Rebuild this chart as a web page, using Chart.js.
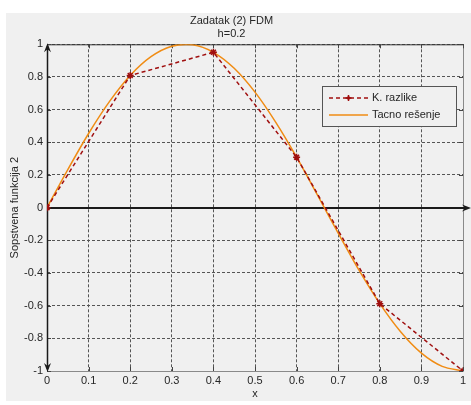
<!DOCTYPE html>
<html>
<head>
<meta charset="utf-8">
<title>Zadatak (2) FDM</title>
<script src="https://cdn.jsdelivr.net/npm/chart.js@4.4.1/dist/chart.umd.min.js"></script>
<style>
  html, body { margin: 0; padding: 0; background: #fff; }
  #wrap { width: 471px; height: 405px; }
</style>
</head>
<body>
<div id="wrap"><canvas id="fdmChart" width="471" height="405"></canvas></div>
<script>
// mesh nodes, h = 0.2
var fdmX = [0, 0.2, 0.4, 0.6, 0.8, 1];
var fdmY = [0, 0.809, 0.951, 0.309, -0.588, -1];

// exact solution sampled at 0.05
var exactX = [0, 0.05, 0.1, 0.15, 0.2, 0.25, 0.3, 0.35, 0.4, 0.45, 0.5,
  0.55, 0.6, 0.65, 0.7, 0.75, 0.8, 0.85, 0.9, 0.95, 1];
var exactY = [0, 0.233, 0.454, 0.649, 0.809, 0.924, 0.988, 0.997, 0.951, 0.853, 0.707,
  0.522, 0.309, 0.078, -0.156, -0.383, -0.588, -0.760, -0.891, -0.972, -1];

var xTickVals = [0, 0.1, 0.2, 0.3, 0.4, 0.5, 0.6, 0.7, 0.8, 0.9, 1];
var xTickLabels = ['0', '0.1', '0.2', '0.3', '0.4', '0.5', '0.6', '0.7', '0.8', '0.9', '1'];
var yTickVals = [-1, -0.8, -0.6, -0.4, -0.2, 0, 0.2, 0.4, 0.6, 0.8, 1];
var yTickLabels = ['-1', '-0.8', '-0.6', '-0.4', '-0.2', '0', '0.2', '0.4', '0.6', '0.8', '1'];

var seriesNames = ['K. razlike', 'Tacno rešenje'];

function toPoints(xs, ys) {
  return xs.map(function (x, i) { return { x: x, y: ys[i] }; });
}

var FONT = '"Liberation Sans", Arial, sans-serif';
var TEXT = '#262626';

// gray figure background
var figureBg = {
  id: 'figureBg',
  beforeDraw: function (chart) {
    var c = chart.ctx;
    c.save();
    c.fillStyle = '#ffffff';
    c.fillRect(0, 0, chart.width, chart.height);
    c.fillStyle = '#f0f0f0';
    c.fillRect(6, 13, chart.width - 6, 388);
    c.restore();
  }
};

function arrowHead(c, x, y, dir) {
  c.beginPath();
  if (dir === 'up') { c.moveTo(x, y - 1); c.lineTo(x - 3.5, y + 8); c.lineTo(x, y + 5); c.lineTo(x + 3.5, y + 8); }
  if (dir === 'down') { c.moveTo(x, y + 1); c.lineTo(x - 3.5, y - 8); c.lineTo(x, y - 5); c.lineTo(x + 3.5, y - 8); }
  if (dir === 'right') { c.moveTo(x + 1, y); c.lineTo(x - 8, y - 3.5); c.lineTo(x - 5, y); c.lineTo(x - 8, y + 3.5); }
  c.closePath();
  c.fill();
}

// box, axes with arrows, legend
var axesOverlay = {
  id: 'axesOverlay',
  beforeDatasetsDraw: function (chart) {
    var c = chart.ctx, a = chart.chartArea;
    var xs = chart.scales.x, ys = chart.scales.y;
    c.save();
    // box
    c.strokeStyle = '#8a8a8a';
    c.lineWidth = 1;
    c.beginPath();
    c.moveTo(a.right + 0.5, a.top);
    c.lineTo(a.right + 0.5, a.bottom + 0.5);
    c.lineTo(a.left, a.bottom + 0.5);
    c.stroke();
    c.strokeStyle = '#333';
    c.beginPath();
    c.moveTo(a.left, a.top + 0.5);
    c.lineTo(a.right + 1, a.top + 0.5);
    c.stroke();
    // tick marks along the edges
    c.strokeStyle = '#444';
    xTickVals.forEach(function (v) {
      var px = Math.round(xs.getPixelForValue(v)) + 0.5;
      c.beginPath();
      c.moveTo(px, a.bottom); c.lineTo(px, a.bottom - 4);
      c.moveTo(px, a.top); c.lineTo(px, a.top + 4);
      c.stroke();
    });
    yTickVals.forEach(function (v) {
      var py = Math.round(ys.getPixelForValue(v)) + 0.5;
      c.beginPath();
      c.moveTo(a.left, py); c.lineTo(a.left + 4, py);
      c.moveTo(a.right, py); c.lineTo(a.right - 4, py);
      c.stroke();
    });
    // coordinate axes
    var x0 = Math.round(xs.getPixelForValue(0)) + 0.5;
    var y0 = Math.round(ys.getPixelForValue(0));
    c.strokeStyle = '#1a1a1a';
    c.fillStyle = '#1a1a1a';
    c.lineWidth = 2;
    c.beginPath();
    c.moveTo(a.left, y0); c.lineTo(a.right + 5, y0);
    c.stroke();
    c.lineWidth = 1.5;
    c.beginPath();
    c.moveTo(x0, a.top + 2); c.lineTo(x0, a.bottom - 2);
    c.stroke();
    arrowHead(c, x0, a.top, 'up');
    arrowHead(c, x0, a.bottom, 'down');
    arrowHead(c, a.right + 7, y0, 'right');
    c.restore();
  },
  afterDatasetsDraw: function (chart) {
    var c = chart.ctx;
    var ds = chart.data.datasets;
    var bx = 322.5, by = 86.5, bw = 134, bh = 40;
    c.save();
    c.fillStyle = '#f0f0f0';
    c.fillRect(bx, by, bw, bh);
    c.strokeStyle = '#555';
    c.lineWidth = 1;
    c.strokeRect(bx, by, bw, bh);
    c.font = '11px ' + FONT;
    c.textBaseline = 'middle';
    var rows = [98, 115];
    ds.forEach(function (d, i) {
      var ry = rows[i];
      c.strokeStyle = d.borderColor;
      c.lineWidth = d.borderWidth;
      c.setLineDash(d.borderDash || []);
      c.beginPath();
      c.moveTo(329, ry); c.lineTo(368, ry);
      c.stroke();
      c.setLineDash([]);
      if (d.pointRadius > 0) {
        c.fillStyle = d.borderColor;
        c.lineWidth = 1.5;
        c.beginPath();
        c.moveTo(348.5, ry - 3); c.lineTo(348.5, ry + 3);
        c.moveTo(345.5, ry); c.lineTo(351.5, ry);
        c.stroke();
        c.beginPath(); c.arc(348.5, ry, 1.8, 0, Math.PI * 2); c.fill();
      }
      c.fillStyle = TEXT;
      c.fillText(seriesNames[i], 372, ry);
    });
    c.restore();
  }
};

var ctx = document.getElementById('fdmChart');
var fdmChart = new Chart(ctx, {
  type: 'line',
  data: {
    datasets: [{
      label: seriesNames[0],
      data: toPoints(fdmX, fdmY),
      borderColor: '#a00f0f',
      backgroundColor: '#a00f0f',
      borderWidth: 1.5,
      borderDash: [4, 3],
      pointStyle: 'star',
      pointRadius: 3.5,
      pointBorderWidth: 1.5,
      tension: 0,
      order: 0
    }, {
      label: seriesNames[1],
      data: toPoints(exactX, exactY),
      borderColor: '#f08c14',
      borderWidth: 1.5,
      pointRadius: 0,
      tension: 0.3,
      order: 1
    }]
  },
  options: {
    responsive: false,
    animation: false,
    events: [],
    layout: { padding: { left: 0, right: 8, top: 0, bottom: 0 } },
    plugins: {
      legend: { display: false },
      tooltip: { enabled: false },
      title: {
        display: true,
        text: ['Zadatak (2) FDM', 'h=0.2'],
        color: TEXT,
        font: { family: FONT, size: 11, weight: 'normal', lineHeight: 1.15 },
        padding: { top: 15, bottom: 4 }
      }
    },
    scales: {
      x: {
        type: 'linear',
        min: 0,
        max: 1,
        afterBuildTicks: function (axis) {
          axis.ticks = xTickVals.map(function (v) { return { value: v }; });
        },
        afterFit: function (axis) { axis.height = 34; },
        ticks: {
          color: TEXT,
          font: { family: FONT, size: 11 },
          padding: 3,
          maxRotation: 0,
          callback: function (v) { return xTickLabels[xTickVals.indexOf(v)]; }
        },
        grid: { color: '#555', borderDash: [3, 2], drawTicks: false, lineWidth: 1 },
        border: { display: false, dash: [3, 2] },
        title: {
          display: true,
          text: 'x',
          color: TEXT,
          font: { family: FONT, size: 11 },
          padding: { top: 0, bottom: 4 }
        }
      },
      y: {
        type: 'linear',
        min: -1,
        max: 1,
        afterBuildTicks: function (axis) {
          axis.ticks = yTickVals.map(function (v) { return { value: v }; });
        },
        afterFit: function (axis) { axis.width = 47; },
        ticks: {
          color: TEXT,
          font: { family: FONT, size: 11 },
          padding: 4,
          callback: function (v) {
            var k = yTickVals.findIndex(function (t) { return Math.abs(t - v) < 1e-9; });
            return yTickLabels[k];
          }
        },
        grid: { color: '#555', borderDash: [3, 2], drawTicks: false, lineWidth: 1 },
        border: { display: false, dash: [3, 2] },
        title: {
          display: true,
          text: 'Sopstvena funkcija 2',
          color: TEXT,
          font: { family: FONT, size: 11 },
          padding: { top: 8, bottom: 0 }
        }
      }
    }
  },
  plugins: [figureBg, axesOverlay]
});
</script>
</body>
</html>
